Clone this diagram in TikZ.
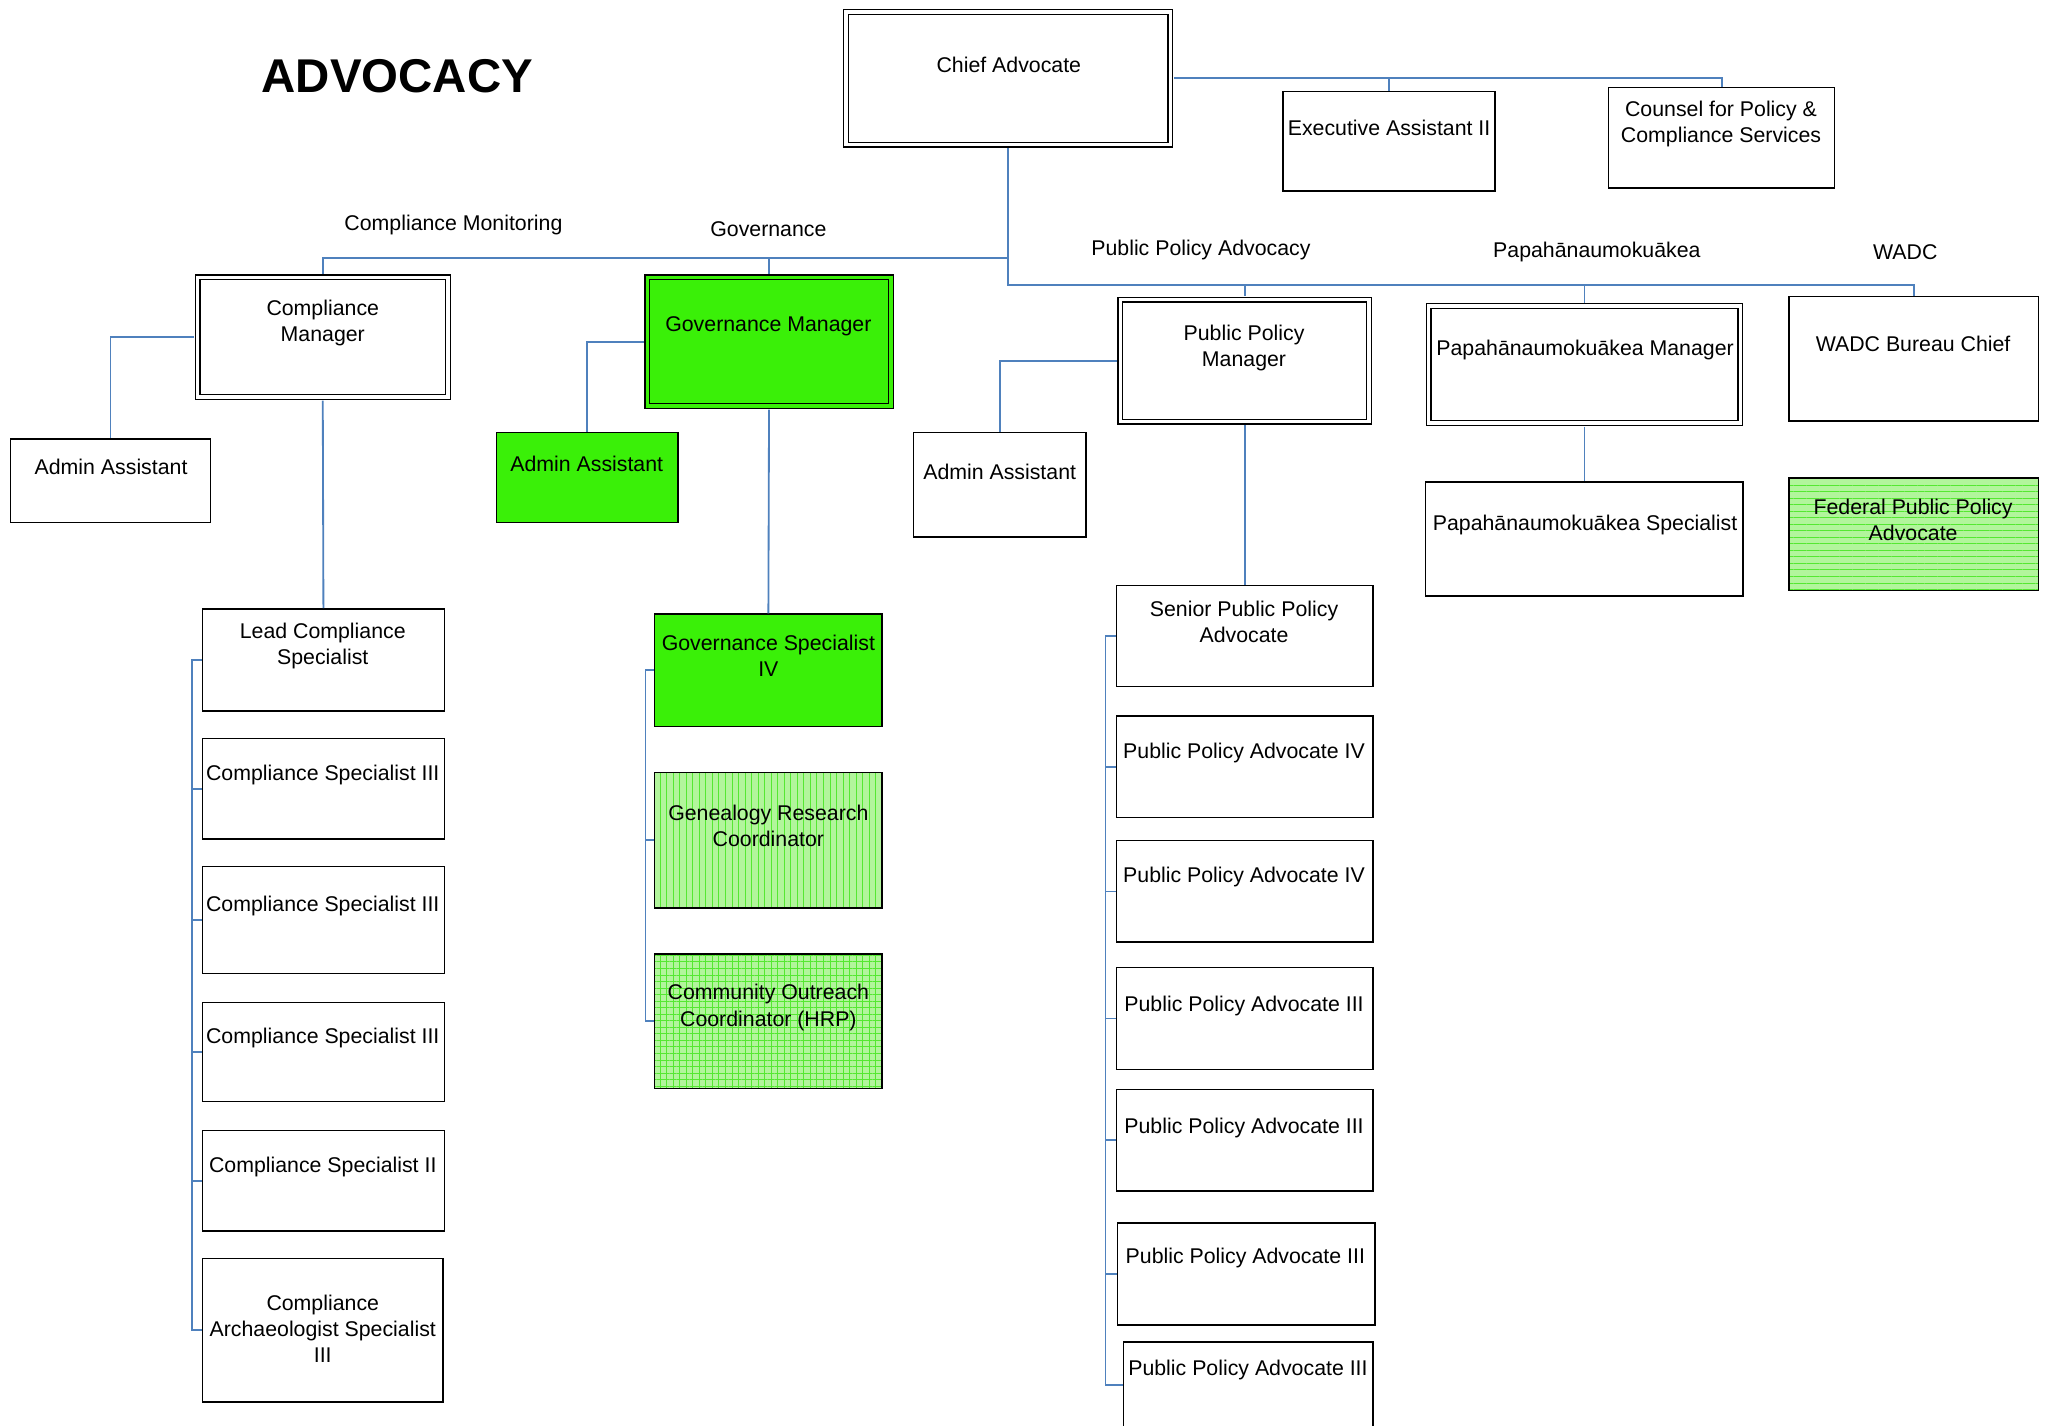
\documentclass[tikz,border=0pt]{standalone}
\usepackage{fontspec}
\setmainfont{Liberation Sans}
\usepackage{tikz}
\usetikzlibrary{patterns.meta}

\definecolor{linkblue}{RGB}{79,129,189}
\definecolor{brightgreen}{RGB}{58,240,8}
\definecolor{palegreen}{RGB}{178,245,156}
\definecolor{hatchgreen}{RGB}{85,232,50}

\begin{document}
\begin{tikzpicture}[
		x=0.25mm, y=-0.25mm,
		sz/.style 2 args={minimum width=#1*0.25mm, minimum height=#2*0.25mm},
		box/.style={draw, rectangle, line width=0.3mm, inner sep=0pt},
		dbox/.style={box, line width=0.25mm, double=white, double distance=0.65mm, outer sep=0.7mm},
		gbox/.style={fill=brightgreen, double=brightgreen},
		hatchbox/.style={box, preaction={fill=palegreen}, pattern={#1}, pattern color=hatchgreen},
		conn/.style={draw=linkblue, line width=0.35mm},
		txt/.style={align=center, inner sep=0pt, font=\fontsize{11.6}{14.2}\selectfont}]
	\useasboundingbox (0,0) rectangle (1568,1091);
	\clip (0,0) rectangle (1568,1091);
	%% title
	\node (title) at (304,58) {\fontsize{25.8}{30}\selectfont\bfseries ADVOCACY};
	%% top boxes
	\node (chief) at (771.5,60) [dbox, sz={248.4}{101.4}] {};
	\node (exec) at (1063,108) [box, sz={162}{76}] {};
	\node (counsel) at (1317.5,105.5) [box, sz={173}{77}] {};
	%% managers
	\node (cm) at (247,258) [dbox, sz={191.4}{91.4}] {};
	\node (gm) at (588.5,261.5) [dbox, gbox, sz={186.4}{98.4}] {};
	\node (ppm) at (952.5,276) [dbox, sz={190.4}{93.4}] {};
	\node (papa) at (1212.5,279) [dbox, sz={238.4}{89.4}] {};
	\node (wadc) at (1464.5,274.5) [box, sz={191}{95}] {};
	%% assistants and single reports
	\node (cadmin) at (84.5,368) [box, sz={153}{64}] {};
	\node (gadmin) at (449.5,365.5) [box, fill=brightgreen, sz={139}{69}] {};
	\node (padmin) at (765,371) [box, sz={132}{80}] {};
	\node (pspec) at (1212.5,412.5) [box, sz={243}{87}] {};
	\node (fed) at (1464.5,409) [hatchbox={Lines[angle=0,distance=1.25mm,line width=0.1mm]}, sz={191}{86}] {};
	%% compliance staff
	\node (lead) at (247.5,505) [box, sz={185}{78}] {};
	\node (cs3a) at (247.5,603.5) [box, sz={185}{77}] {};
	\node (cs3b) at (247.5,704) [box, sz={185}{82}] {};
	\node (cs3c) at (247.5,805) [box, sz={185}{76}] {};
	\node (cs2) at (247.5,903.5) [box, sz={185}{77}] {};
	\node (arch) at (247,1018) [box, sz={184}{110}] {};
	%% governance staff
	\node (gs4) at (588,513) [box, fill=brightgreen, sz={174}{86}] {};
	\node (gen) at (588,643) [hatchbox={Lines[angle=90,distance=1.25mm,line width=0.1mm]}, sz={174}{104}] {};
	\node (com) at (588,781.5) [hatchbox={Hatch[angle=0,distance=1.25mm,line width=0.1mm]}, sz={174}{103}] {};
	%% public policy staff
	\node (senior) at (952.5,486.75) [box, sz={196}{77.5}] {};
	\node (ppa4a) at (952.5,586.8) [box, sz={196}{77.6}] {};
	\node (ppa4b) at (952.5,682.2) [box, sz={196}{77.7}] {};
	\node (ppa3a) at (952.5,779.4) [box, sz={196}{78}] {};
	\node (ppa3b) at (952.5,872.6) [box, sz={196}{78}] {};
	\node (ppa3c) at (953.5,974.9) [box, sz={197}{77.7}] {};
	\node (ppa3d) at (955.3,1060) [box, sz={191}{66}] {};
	%% texts
	\node[txt] (t-chief) at (772,50) {Chief Advocate};
	\node[txt] (t-exec) at (1063,98) {Executive Assistant II};
	\node[txt] (t-counsel) at (1317,95) {Counsel for Policy \&\\Compliance Services};
	\node[txt] (t-cm) at (247,247) {Compliance\\Manager};
	\node[txt] (t-gm) at (588,250) {Governance Manager};
	\node[txt] (t-ppm) at (952,266) {Public Policy\\Manager};
	\node[txt] (t-papa) at (1213,268) {Papahānaumokuākea Manager};
	\node[txt] (t-wadc) at (1464,263) {WADC Bureau Chief};
	\node[txt] (t-cadmin) at (85,357) {Admin Assistant};
	\node[txt] (t-gadmin) at (449,355) {Admin Assistant};
	\node[txt] (t-padmin) at (765,361) {Admin Assistant};
	\node[txt] (t-pspec) at (1213,402) {Papahānaumokuākea Specialist};
	\node[txt] (t-fed) at (1464,398) {Federal Public Policy\\Advocate};
	\node[txt] (t-lead) at (247,494) {Lead Compliance\\Specialist};
	\node[txt] (t-cs3a) at (247,593) {Compliance Specialist III};
	\node[txt] (t-cs3b) at (247,693) {Compliance Specialist III};
	\node[txt] (t-cs3c) at (247,794) {Compliance Specialist III};
	\node[txt] (t-cs2) at (247,893) {Compliance Specialist II};
	\node[txt] (t-arch) at (247,1017) {Compliance\\Archaeologist Specialist\\III};
	\node[txt] (t-gs4) at (588,502) {Governance Specialist\\IV};
	\node[txt] (t-gen) at (588,632) {Genealogy Research\\Coordinator};
	\node[txt] (t-com) at (588,771) {Community Outreach\\Coordinator (HRP)};
	\node[txt] (t-senior) at (952,476) {Senior Public Policy\\Advocate};
	\node[txt] (t-ppa4a) at (952,576) {Public Policy Advocate IV};
	\node[txt] (t-ppa4b) at (952,671) {Public Policy Advocate IV};
	\node[txt] (t-ppa3a) at (952,769.5) {Public Policy Advocate III};
	\node[txt] (t-ppa3b) at (952,863) {Public Policy Advocate III};
	\node[txt] (t-ppa3c) at (953,963) {Public Policy Advocate III};
	\node[txt] (t-ppa3d) at (955,1048) {Public Policy Advocate III};
	%% division labels
	\node[txt] (l-cm) at (347,172) {Compliance Monitoring};
	\node[txt] (l-gov) at (588,175) {Governance};
	\node[txt] (l-ppa) at (919,191) {Public Policy Advocacy};
	\node[txt] (l-papa) at (1222,193) {Papahānaumokuākea};
	\node[txt] (l-wadc) at (1458,193) {WADC};
	%% connectors
	\coordinate (lbus) at (771.5,197.5);
	\coordinate (rbus) at (771.5,218);
	\coordinate (cbar) at (147,505);
	\coordinate (gbar) at (494,513);
	\coordinate (pbar) at (846,486.75);
	\draw[conn] (chief.east) -| (counsel.north);
	\draw[conn] (exec.north) -- (exec.north |- chief.east);
	\draw[conn] (chief.south) -- (rbus) -| (wadc.north);
	\draw[conn] (lbus) -| (cm.north);
	\draw[conn] (gm.north) -- (gm.north |- lbus);
	\draw[conn] (ppm.north) -- (ppm.north |- rbus);
	\draw[conn] (papa.north) -- (papa.north |- rbus);
	\draw[conn] (cm.west) -| (cadmin.north);
	\draw[conn] (gm.west) -| (gadmin.north);
	\draw[conn] (ppm.west) -| (padmin.north);
	\draw[conn] (cm.south) -- (lead.north);
	\draw[conn] (gm.south) -- (gs4.north);
	\draw[conn] (ppm.south) -- (senior.north);
	\draw[conn] (papa.south) -- (pspec.north);
	%% brackets
	\draw[conn] (lead.west) -- (cbar) |- (arch.west);
	\foreach \n in {cs3a,cs3b,cs3c,cs2}
		\draw[conn] (\n.west) -- (\n.west -| cbar);
	\draw[conn] (gs4.west) -- (gbar) |- (com.west);
	\draw[conn] (gen.west) -- (gen.west -| gbar);
	\draw[conn] (senior.west) -- (pbar) |- (ppa3d.west);
	\foreach \n in {ppa4a,ppa4b,ppa3a,ppa3b,ppa3c}
		\draw[conn] (\n.west) -- (\n.west -| pbar);
\end{tikzpicture}
\end{document}
